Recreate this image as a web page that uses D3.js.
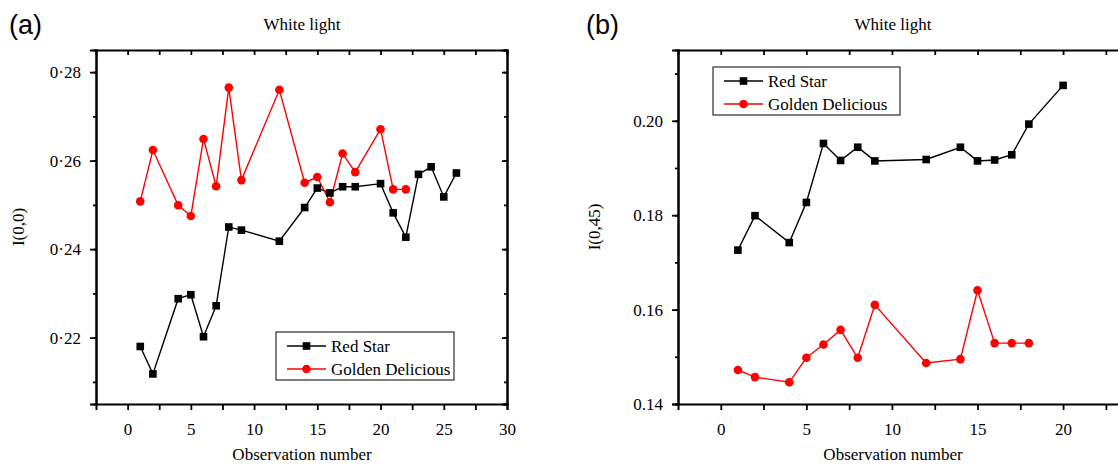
<!DOCTYPE html>
<html>
<head>
<meta charset="utf-8">
<script src="https://cdn.jsdelivr.net/npm/d3@7"></script>
<style>
  body { margin: 0; background: #fff; }
  svg { display: block; }
  text { font-family: "Liberation Serif", "Times New Roman", serif; fill: #000; }
</style>
</head>
<body>
<div id="chart"></div>
<script>
// panel (a): I(0,0)
var obsA_red = [1, 2, 4, 5, 6, 7, 8, 9, 12, 14, 15, 16, 17, 18, 20, 21, 22, 23, 24, 25, 26];
var valA_red = [0.2180, 0.2118, 0.2288, 0.2297, 0.2202, 0.2272, 0.2450, 0.2443, 0.2418, 0.2494,
  0.2538, 0.2527, 0.2541, 0.2541, 0.2548, 0.2482, 0.2427, 0.2569, 0.2586, 0.2518, 0.2572];
var obsA_gold = [1, 2, 4, 5, 6, 7, 8, 9, 12, 14, 15, 16, 17, 18, 20, 21, 22];
var valA_gold = [0.2508, 0.2624, 0.2499, 0.2475, 0.2649, 0.2542, 0.2765, 0.2556, 0.2760, 0.2550,
  0.2563, 0.2506, 0.2616, 0.2574, 0.2671, 0.2535, 0.2535];
var xTicksA = [0, 5, 10, 15, 20, 25, 30];
var yTicksA = [0.22, 0.24, 0.26, 0.28];

// panel (b): I(0,45)
var obsB_red = [1, 2, 4, 5, 6, 7, 8, 9, 12, 14, 15, 16, 17, 18, 20];
var valB_red = [0.1726, 0.1799, 0.1742, 0.1827, 0.1952, 0.1916, 0.1944, 0.1915, 0.1918, 0.1944,
  0.1915, 0.1917, 0.1928, 0.1993, 0.2075];
var obsB_gold = [1, 2, 4, 5, 6, 7, 8, 9, 12, 14, 15, 16, 17, 18];
var valB_gold = [0.1472, 0.1457, 0.1446, 0.1498, 0.1526, 0.1557, 0.1498, 0.1610, 0.1487, 0.1495,
  0.1641, 0.1529, 0.1529, 0.1529];
var xTicksB = [0, 5, 10, 15, 20];
var yTicksB = [0.14, 0.16, 0.18, 0.20];

var seriesNames = ["Red Star", "Golden Delicious"];
var seriesColours = ["#000000", "#ff0000"];

var W = 1118, H = 466;

var svg = d3.select("#chart").append("svg")
  .attr("width", W).attr("height", H)
  .attr("viewBox", "0 0 " + W + " " + H);

function zip(xs, ys) {
  return xs.map(function (x, i) { return { x: x, y: ys[i] }; });
}

function drawPanel(p) {
  var x = d3.scaleLinear().domain(p.xDomain).range([p.left, p.right]);
  var y = d3.scaleLinear().domain(p.yDomain).range([p.bottom, p.top]);
  var g = svg.append("g");

  // minor tick positions (half steps)
  var xMinor = d3.range(p.xDomain[0], p.xDomain[1] + 0.001, 2.5).filter(function (v) { return v > p.xDomain[0]; });
  var yMinor = d3.range(Math.ceil(p.yDomain[0] * 100) / 100, p.yDomain[1], 0.01);

  function styleAxis(sel) {
    sel.attr("font-family", null).attr("font-size", null);
    sel.select(".domain").attr("stroke-width", 2).attr("stroke", "#000");
    sel.selectAll(".tick line").attr("stroke-width", 1.8).attr("stroke", "#000");
    sel.selectAll(".tick text")
      .attr("font-family", "'Liberation Serif', 'Times New Roman', serif")
      .attr("font-size", 17);
  }

  // bottom axis, ticks outward
  var bx = g.append("g").attr("transform", "translate(0," + p.bottom + ")")
    .call(d3.axisBottom(x).tickValues(xMinor).tickSize(6).tickFormat(""));
  styleAxis(bx);
  var bxl = g.append("g").attr("transform", "translate(0," + p.bottom + ")")
    .call(d3.axisBottom(x).tickValues(p.xTicks).tickSize(0).tickPadding(19).tickFormat(d3.format("d")));
  bxl.select(".domain").remove();
  styleAxis(bxl);

  // top axis, ticks inward
  var tx = g.append("g").attr("transform", "translate(0," + p.top + ")")
    .call(d3.axisTop(x).tickValues(xMinor).tickSize(-5).tickFormat(""));
  styleAxis(tx);

  // left axis, ticks outward, minor shorter
  var ly = g.append("g").attr("transform", "translate(" + p.left + ",0)")
    .call(d3.axisLeft(y).tickValues(yMinor).tickSize(3).tickFormat(""));
  styleAxis(ly);
  var lyM = g.append("g").attr("transform", "translate(" + p.left + ",0)")
    .call(d3.axisLeft(y).tickValues(p.yTicks).tickSize(6).tickPadding(9).tickFormat(p.yFormat));
  styleAxis(lyM);

  // right axis, ticks inward
  var ry = g.append("g").attr("transform", "translate(" + p.right + ",0)")
    .call(d3.axisRight(y).tickValues(p.yTicks).tickSize(-5).tickFormat(""));
  styleAxis(ry);
  var ryM = g.append("g").attr("transform", "translate(" + p.right + ",0)")
    .call(d3.axisRight(y).tickValues(yMinor).tickSize(-3).tickFormat(""));
  styleAxis(ryM);

  // lines and markers
  var line = d3.line().x(function (d) { return x(d.x); }).y(function (d) { return y(d.y); });
  var series = [zip(p.redX, p.redY), zip(p.goldX, p.goldY)];
  series.forEach(function (data, i) {
    g.append("path").datum(data)
      .attr("d", line)
      .attr("fill", "none")
      .attr("stroke", seriesColours[i])
      .attr("stroke-width", 1.4);
  });
  g.selectAll(".sq").data(series[0]).enter().append("rect")
    .attr("x", function (d) { return x(d.x) - 3.8; })
    .attr("y", function (d) { return y(d.y) - 3.8; })
    .attr("width", 7.6).attr("height", 7.6)
    .attr("fill", seriesColours[0]);
  g.selectAll(".dot").data(series[1]).enter().append("circle")
    .attr("cx", function (d) { return x(d.x); })
    .attr("cy", function (d) { return y(d.y); })
    .attr("r", 4.3)
    .attr("fill", seriesColours[1]);

  // legend
  var lg = g.append("g").attr("transform", "translate(" + p.legend[0] + "," + p.legend[1] + ")");
  lg.append("rect").attr("width", p.legend[2]).attr("height", 48)
    .attr("fill", "#fff").attr("stroke", "#000").attr("stroke-width", 1);
  seriesNames.forEach(function (name, i) {
    var ly0 = 14 + i * 23;
    lg.append("line").attr("x1", 11).attr("x2", 50).attr("y1", ly0).attr("y2", ly0)
      .attr("stroke", seriesColours[i]).attr("stroke-width", 1.6);
    if (i === 0) {
      lg.append("rect").attr("x", 30.5 - 3.8).attr("y", ly0 - 3.8).attr("width", 7.6).attr("height", 7.6)
        .attr("fill", seriesColours[i]);
    } else {
      lg.append("circle").attr("cx", 30.5).attr("cy", ly0).attr("r", 4.3).attr("fill", seriesColours[i]);
    }
    lg.append("text").attr("x", 55).attr("y", ly0 + 6).attr("font-size", 17).text(name);
  });

  // labels
  g.append("text").attr("x", p.titleX).attr("y", 30).attr("text-anchor", "middle")
    .attr("font-size", 17).text("White light");
  g.append("text").attr("x", p.titleX).attr("y", 460).attr("text-anchor", "middle")
    .attr("font-size", 17).text("Observation number");
  g.append("text")
    .attr("transform", "translate(" + p.yTitleX + "," + ((p.top + p.bottom) / 2) + ") rotate(-90)")
    .attr("text-anchor", "middle").attr("font-size", 17).text(p.yTitle);
  g.append("text").attr("x", p.panelX).attr("y", 34)
    .style("font-family", "'Liberation Sans', Arial, sans-serif")
    .attr("font-size", 27).text(p.panelLabel);
}

drawPanel({
  left: 96, right: 507, top: 50, bottom: 404,
  xDomain: [-2.5, 30], yDomain: [0.205, 0.285],
  xTicks: xTicksA, yTicks: yTicksA,
  yFormat: function (d) { return d3.format(".2f")(d).replace(".", "\u00b7"); },
  redX: obsA_red, redY: valA_red, goldX: obsA_gold, goldY: valA_gold,
  legend: [276, 332, 178],
  titleX: 302, yTitleX: 24, yTitle: "I(0,0)",
  panelX: 9, panelLabel: "(a)"
});

drawPanel({
  left: 678, right: 1123, top: 50, bottom: 404,
  xDomain: [-2.5, 23.5], yDomain: [0.14, 0.215],
  xTicks: xTicksB, yTicks: yTicksB,
  yFormat: d3.format(".2f"),
  redX: obsB_red, redY: valB_red, goldX: obsB_gold, goldY: valB_gold,
  legend: [713, 67, 187],
  titleX: 893, yTitleX: 600, yTitle: "I(0,45)",
  panelX: 586, panelLabel: "(b)"
});
</script>
</body>
</html>
